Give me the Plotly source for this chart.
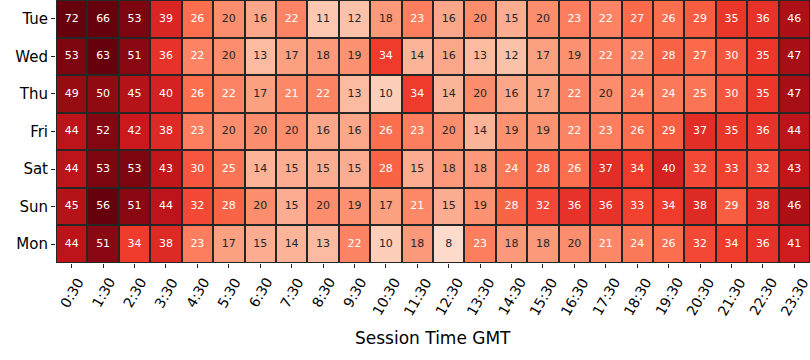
import plotly.graph_objects as go

days = ["Tue", "Wed", "Thu", "Fri", "Sat", "Sun", "Mon"]
times = ["0:30", "1:30", "2:30", "3:30", "4:30", "5:30", "6:30", "7:30",
         "8:30", "9:30", "10:30", "11:30", "12:30", "13:30", "14:30", "15:30",
         "16:30", "17:30", "18:30", "19:30", "20:30", "21:30", "22:30", "23:30"]

tue = [72, 66, 53, 39, 26, 20, 16, 22, 11, 12, 18, 23, 16, 20, 15, 20, 23, 22, 27, 26, 29, 35, 36, 46]
wed = [53, 63, 51, 36, 22, 20, 13, 17, 18, 19, 34, 14, 16, 13, 12, 17, 19, 22, 22, 28, 27, 30, 35, 47]
thu = [49, 50, 45, 40, 26, 22, 17, 21, 22, 13, 10, 34, 14, 20, 16, 17, 22, 20, 24, 24, 25, 30, 35, 47]
fri = [44, 52, 42, 38, 23, 20, 20, 20, 16, 16, 26, 23, 20, 14, 19, 19, 22, 23, 26, 29, 37, 35, 36, 44]
sat = [44, 53, 53, 43, 30, 25, 14, 15, 15, 15, 28, 15, 18, 18, 24, 28, 26, 37, 34, 40, 32, 33, 32, 43]
sun = [45, 56, 51, 44, 32, 28, 20, 15, 20, 19, 17, 21, 15, 19, 28, 32, 36, 36, 33, 34, 38, 29, 38, 46]
mon = [44, 51, 34, 38, 23, 17, 15, 14, 13, 22, 10, 18, 8, 23, 18, 18, 20, 21, 24, 26, 32, 34, 36, 41]

z = [tue, wed, thu, fri, sat, sun, mon]

ZMIN, ZMAX = 0, 58
stops = [(0, "#fff5f0"), (7, "#fee0d2"), (13, "#fcbba1"), (19, "#fc9272"),
         (27, "#fb6a4a"), (34, "#ef3b2c"), (42, "#cb181d"), (47, "#a50f15"),
         (56, "#67000d"), (58, "#67000d")]
colorscale = [[(v - ZMIN) / (ZMAX - ZMIN), c] for v, c in stops]


def hex2rgb(h):
    h = h.lstrip("#")
    return [int(h[i:i + 2], 16) for i in (0, 2, 4)]


def color_at(v):
    v = min(max(v, ZMIN), ZMAX)
    for (v0, c0), (v1, c1) in zip(stops[:-1], stops[1:]):
        if v0 <= v <= v1:
            t = 0 if v1 == v0 else (v - v0) / (v1 - v0)
            a, b = hex2rgb(c0), hex2rgb(c1)
            return [a[i] + (b[i] - a[i]) * t for i in range(3)]
    return hex2rgb(stops[-1][1])


def lum(rgb):
    out = []
    for c in rgb:
        c = c / 255.0
        out.append(c / 12.92 if c <= 0.03928 else ((c + 0.055) / 1.055) ** 2.4)
    return 0.2126 * out[0] + 0.7152 * out[1] + 0.0722 * out[2]


tx, ty, tt, tc = [], [], [], []
for d, row in zip(days, z):
    for t, v in zip(times, row):
        tx.append(t)
        ty.append(d)
        tt.append(str(v))
        tc.append("#262626" if lum(color_at(v)) > 0.408 else "#ffffff")

fig = go.Figure()
fig.add_trace(go.Heatmap(
    z=z, x=times, y=days,
    colorscale=colorscale, zmin=ZMIN, zmax=ZMAX,
    showscale=False, xgap=2, ygap=2, hoverinfo="skip",
))
fig.add_trace(go.Scatter(
    x=tx, y=ty, text=tt, mode="text",
    textfont=dict(family="DejaVu Sans", size=11, color=tc),
    showlegend=False, hoverinfo="skip", cliponaxis=False,
))

fig.update_layout(
    width=810, height=360,
    margin=dict(l=56, r=0, t=0, b=97),
    paper_bgcolor="white",
    plot_bgcolor="#262626",
    font=dict(family="DejaVu Sans", color="black"),
    showlegend=False,
)
fig.update_xaxes(
    type="category", categoryorder="array", categoryarray=times,
    ticks="outside", ticklen=4, tickwidth=1, tickcolor="#222",
    showticklabels=False,
    showgrid=False, zeroline=False, showline=False, automargin=False,
    range=[-0.5, 23.5],
)
fig.update_yaxes(
    type="category", categoryorder="array", categoryarray=days,
    autorange="reversed", ticks="outside", ticklen=4, tickwidth=1, tickcolor="#222",
    tickfont=dict(size=15, color="black"),
    showgrid=False, zeroline=False, showline=False, automargin=False,
)
# rotated tick labels centred on their ticks (bounding box centred)
for t in times:
    fig.add_annotation(
        text=t, x=t, xref="x", y=0, yref="paper",
        xanchor="center", yanchor="top", yshift=-11,
        textangle=-60, showarrow=False, borderpad=0,
        font=dict(size=14, color="black", family="DejaVu Sans"),
    )
fig.add_annotation(
    text="Session Time GMT", xref="paper", yref="paper",
    x=0.5, y=-0.285, xanchor="center", yanchor="middle",
    showarrow=False, font=dict(size=17, color="black", family="DejaVu Sans"),
)

fig.write_html("out.html", config={"displayModeBar": False},
               post_script="document.body.style.margin='0';document.body.style.overflow='hidden';")
